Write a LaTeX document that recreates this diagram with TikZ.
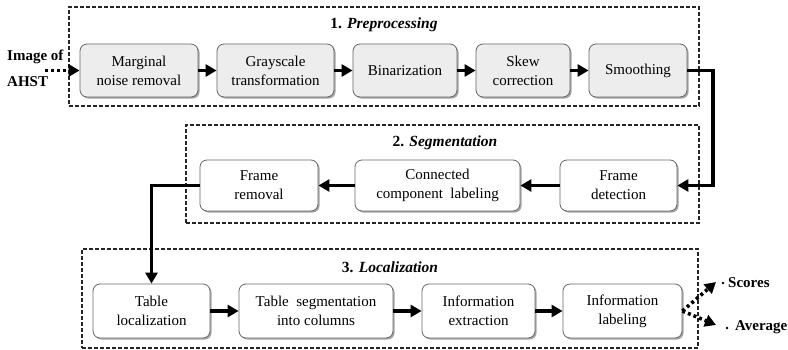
\documentclass[tikz,border=0pt]{standalone}
\usepackage{fontspec}
\setmainfont{Liberation Serif}
\usetikzlibrary{arrows.meta,shadows,calc}
\begin{document}
\begin{tikzpicture}[x=1pt,y=-1pt,
  every node/.style={font=\fontsize{15}{19}\selectfont, inner sep=0pt},
  stepbox/.style={draw=black!60, line width=0.8pt, rounded corners=7pt, align=center,
     drop shadow={shadow xshift=1.6pt, shadow yshift=-1.6pt, opacity=0.35, fill=black}},
  prebox/.style={stepbox, fill=black!7},
  postbox/.style={stepbox, fill=white},
  stage/.style={draw=black!85, line width=1.1pt, dash pattern=on 4pt off 2pt},
  title/.style={font=\fontsize{15.5}{19}\selectfont\bfseries},
  flow/.style={line width=3.2pt, -{Triangle[length=11pt,width=12pt]}},
  dotflow/.style={line width=3.6pt, dash pattern=on 3pt off 3pt, -{Triangle[length=11pt,width=12pt]}},
  lbl/.style={font=\fontsize{15}{19}\selectfont\bfseries, anchor=west}
]
\useasboundingbox (0,0) rectangle (788,350);

% stage frames
\node[stage, minimum width=630pt, minimum height=99pt] (B1) at (384,56.5) {};
\node[stage, minimum width=513pt, minimum height=98pt] (B2) at (442.5,174) {};
\node[stage, minimum width=616pt, minimum height=99pt] (B3) at (390,298.5) {};

% titles
\node[title] (T1) at (384,25) {1. \textit{Preprocessing}};
\node[title] (T2) at (445,143) {2. \textit{Segmentation}};
\node[title] (T3) at (390,267) {3. \textit{Localization}};

% row 1
\node[prebox, minimum width=118pt, minimum height=53pt] (m1) at (139,70.5) {Marginal\\noise removal};
\node[prebox, minimum width=117pt, minimum height=53pt] (m2) at (275.5,70.5) {Grayscale\\transformation};
\node[prebox, minimum width=104pt, minimum height=53pt] (m3) at (405,70.5) {Binarization};
\node[prebox, minimum width=94pt, minimum height=53pt] (m4) at (523,70.5) {Skew\\correction};
\node[prebox, minimum width=98pt, minimum height=53pt] (m5) at (638,70.5) {Smoothing};

% row 2
\node[postbox, minimum width=117pt, minimum height=51pt] (s1) at (618.5,185.5) {Frame\\detection};
\node[postbox, minimum width=165pt, minimum height=51pt] (s2) at (437.5,185.5) {Connected\\component~~labeling};
\node[postbox, minimum width=118pt, minimum height=51pt] (s3) at (259,185.5) {Frame\\removal};

% row 3
\node[postbox, minimum width=117pt, minimum height=54pt] (l1) at (151.5,311) {Table\\localization};
\node[postbox, minimum width=154pt, minimum height=54pt] (l2) at (316,311) {Table~~segmentation\\into columns};
\node[postbox, minimum width=113pt, minimum height=54pt] (l3) at (478.5,311) {Information\\extraction};
\node[postbox, minimum width=119pt, minimum height=54pt] (l4) at (622.5,311) {Information\\labeling};

% input
\node[lbl] (in1) at (7,57) {Image of};
\node[lbl] (in2) at (7,82) {AHST};
\coordinate (inS) at (45,70.5);
\draw[dotflow] (inS) -- (m1.west);

% row 1 arrows
\draw[flow] (m1) -- (m2);
\draw[flow] (m2) -- (m3);
\draw[flow] (m3) -- (m4);
\draw[flow] (m4) -- (m5);

% to segmentation
\coordinate (c1) at (713,70.5);
\coordinate (c2) at (713,185.5);
\draw[flow, line join=miter] (m5.east) -- (c1) -- (c2) -- (s1.east);

\draw[flow] (s1) -- (s2);
\draw[flow] (s2) -- (s3);

% to localization
\coordinate (c3) at (151.5,185.5);
\draw[flow, line join=miter] (s3.west) -- (c3) -- (l1.north);

\draw[flow] (l1) -- (l2);
\draw[flow] (l2) -- (l3);
\draw[flow] (l3) -- (l4);

% outputs
\coordinate (o1) at (716,282);
\coordinate (o2) at (716,325);
\draw[dotflow] (l4.east) -- (o1);
\draw[dotflow] (l4.east) -- (o2);
\fill (723,283) circle (1.4pt);
\fill (727,328) circle (1.4pt);
\node[lbl] (sc) at (728,283) {Scores};
\node[lbl] (av) at (735,327) {Average};
\end{tikzpicture}
\end{document}
